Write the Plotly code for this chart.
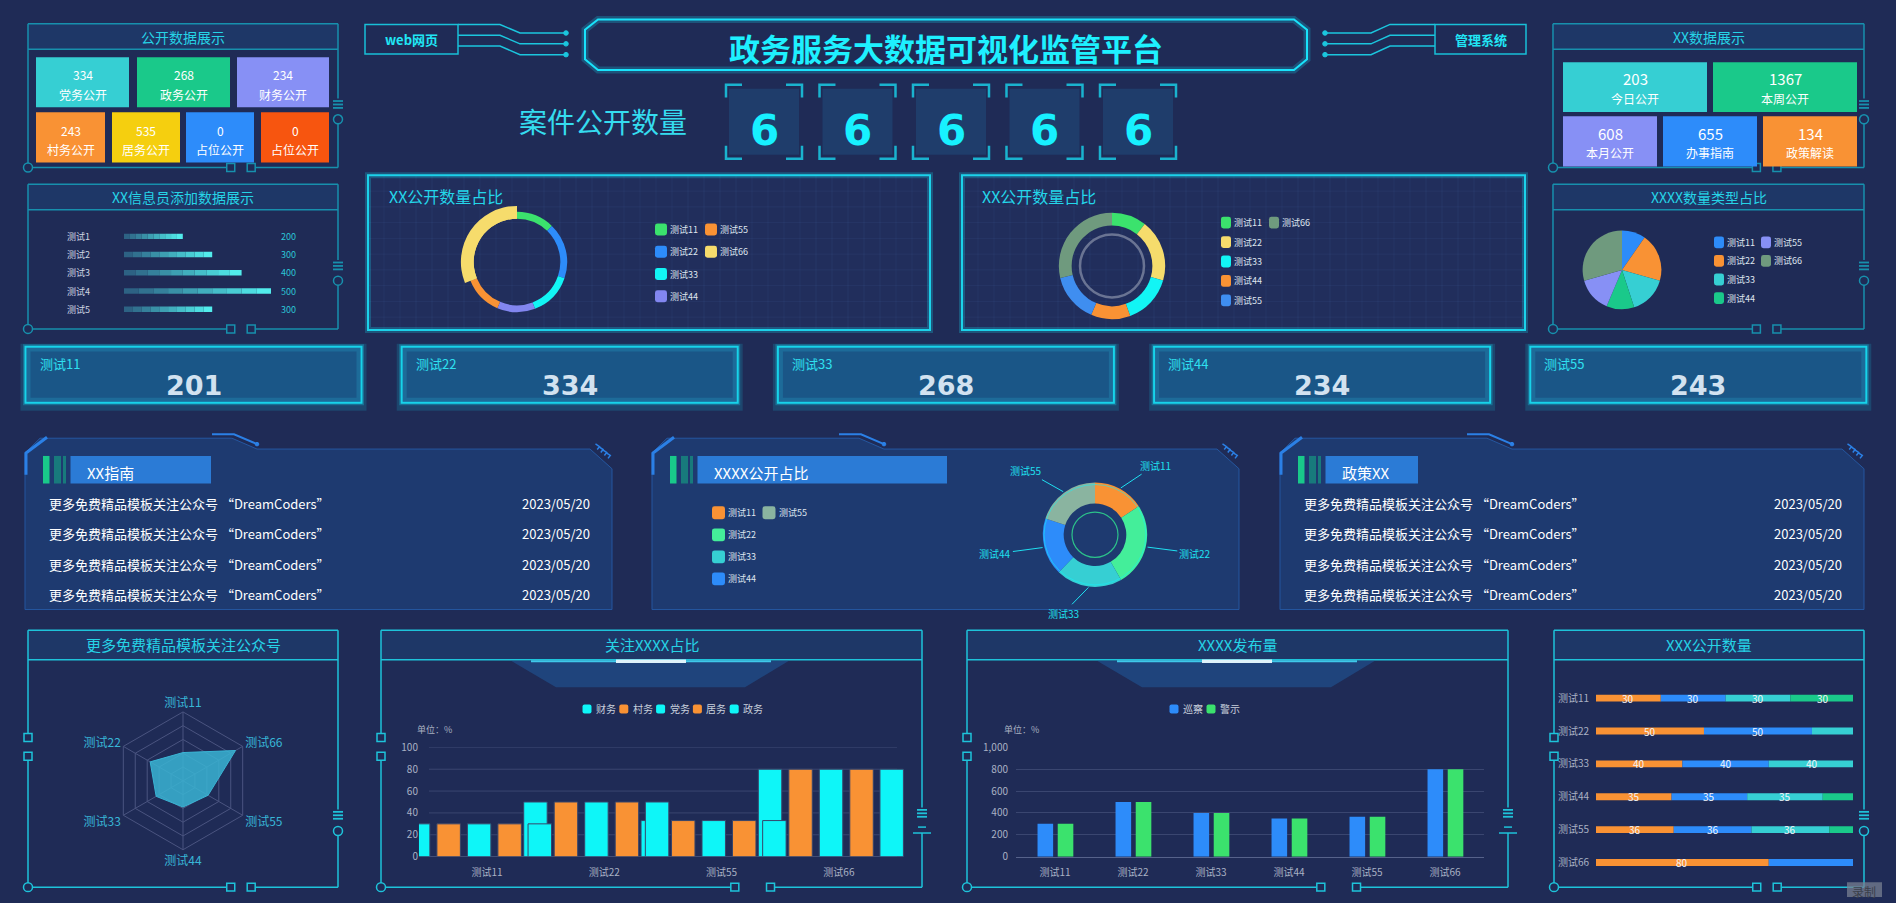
import math
import plotly.graph_objects as go

W, H = 1896, 903
BG = '#1f2b56'
FONT = 'Noto Sans CJK SC, Microsoft YaHei, sans-serif'

# ---------------- data ----------------
page_title = '政务服务大数据可视化监管平台'
left_tag, right_tag = 'web网页', '管理系统'
case_title = '案件公开数量'
case_digits = ['6', '6', '6', '6', '6']

pub_title = '公开数据展示'
pub_labels = ['党务公开', '政务公开', '财务公开', '村务公开', '居务公开', '占位公开', '占位公开']
pub_values = [334, 268, 234, 243, 535, 0, 0]

xx_title = 'XX数据展示'
xx_labels = ['今日公开', '本周公开', '本月公开', '办事指南', '政策解读']
xx_values = [203, 1367, 608, 655, 134]

info_title = 'XX信息员添加数据展示'
info_labels = ['测试1', '测试2', '测试3', '测试4', '测试5']
info_values = [200, 300, 400, 500, 300]

ring_title = 'XX公开数量占比'
ring_labels = ['测试11', '测试22', '测试33', '测试44', '测试55', '测试66']
ring1_values = [44, 65, 50, 44, 45, 112]
ring2_values = [38, 68, 54, 43, 54, 103]
type_title = 'XXXX数量类型占比'
type_values = [35, 71, 56, 41, 51, 106]

stat_labels = ['测试11', '测试22', '测试33', '测试44', '测试55']
stat_values = [201, 334, 268, 234, 243]

guide_title = 'XX指南'
policy_title = '政策XX'
news_titles = ['更多免费精品模板关注公众号 “DreamCoders”'] * 4
news_dates = ['2023/05/20'] * 4

share_title = 'XXXX公开占比'
share_labels = ['测试11', '测试22', '测试33', '测试44', '测试55']
share_values = [57, 93, 74, 64, 72]

radar_title = '更多免费精品模板关注公众号'
radar_labels = ['测试11', '测试22', '测试33', '测试44', '测试55', '测试66']
radar_values = [41, 55, 45, 38, 42, 88]

focus_title = '关注XXXX占比'
focus_categories = ['测试11', '测试22', '测试55', '测试66']
focus_series = ['财务', '村务', '党务', '居务', '政务']
focus_caiwu = [30, 50, 33, 80]
focus_cunwu = [30, 50, 33, 80]
focus_dangwu = [30, 50, 33, 80]
focus_juwu = [30, 50, 33, 80]
focus_zhengwu = [30, 50, 33, 80]
focus_ticks = [0, 20, 40, 60, 80, 100]

release_title = 'XXXX发布量'
release_categories = ['测试11', '测试22', '测试33', '测试44', '测试55', '测试66']
release_series = ['巡察', '警示']
release_patrol = [300, 500, 400, 350, 365, 800]
release_warning = [300, 500, 400, 350, 365, 800]

count_title = 'XXX公开数量'
count_categories = ['测试11', '测试22', '测试33', '测试44', '测试55', '测试66']
count_s1 = [30, 50, 40, 35, 36, 80]
count_s2 = [30, 50, 40, 35, 36, 80]
count_s3 = [30, 50, 40, 35, 36, 80]
count_s4 = [30, 50, 40, 35, 36, 80]
unit_text = '单位：%'

# ---------------- helpers ----------------
shapes, anns, traces = [], [], []


def px(x):
    return x / W


def py(y):
    return 1 - y / H


def rect(x0, y0, x1, y1, fill=None, line=None, lw=1, layer='below'):
    d = dict(type='rect', xref='paper', yref='paper', x0=px(x0), x1=px(x1), y0=py(y1), y1=py(y0),
             layer=layer, line=dict(width=lw if line else 0, color=line or 'rgba(0,0,0,0)'))
    if fill:
        d['fillcolor'] = fill
    shapes.append(d)


def poly(pts, color=None, lw=1, fill=None, close=False, layer='below'):
    p = 'M ' + ' L '.join(f'{px(x):.5f},{py(y):.5f}' for x, y in pts)
    if close:
        p += ' Z'
    d = dict(type='path', xref='paper', yref='paper', path=p, layer=layer,
             line=dict(color=color or 'rgba(0,0,0,0)', width=lw if color else 0))
    if fill:
        d['fillcolor'] = fill
    shapes.append(d)


def rrect(x0, y0, x1, y1, r, fill, layer='above'):
    def P(x, y):
        return f'{px(x):.5f},{py(y):.5f}'
    p = (f'M {P(x0 + r, y0)} L {P(x1 - r, y0)} Q {P(x1, y0)} {P(x1, y0 + r)} L {P(x1, y1 - r)} '
         f'Q {P(x1, y1)} {P(x1 - r, y1)} L {P(x0 + r, y1)} Q {P(x0, y1)} {P(x0, y1 - r)} '
         f'L {P(x0, y0 + r)} Q {P(x0, y0)} {P(x0 + r, y0)} Z')
    shapes.append(dict(type='path', xref='paper', yref='paper', path=p, layer=layer,
                       fillcolor=fill, line=dict(width=0, color='rgba(0,0,0,0)')))


def circle(cx, cy, r, color, lw=1, fill=None, layer='below'):
    d = dict(type='circle', xref='paper', yref='paper', x0=px(cx - r), x1=px(cx + r),
             y0=py(cy + r), y1=py(cy - r), layer=layer, line=dict(color=color, width=lw))
    if fill:
        d['fillcolor'] = fill
    shapes.append(d)


def text(x, y, s, size=12, color='#ffffff', xa='center', ya='middle', bold=False, family=FONT, **kw):
    anns.append(dict(xref='paper', yref='paper', x=px(x), y=py(y),
                     text=f'<b>{s}</b>' if bold else s, showarrow=False, xanchor=xa, yanchor=ya,
                     font=dict(size=size, color=color, family=family), **kw))


def header_panel(box, hb, title, tsize=14, eq_from_bottom=(64, 49), left_sq=False, wide=False,
                 border='#1790ad', tcolor='#26d3e6'):
    x0, y0, x1, y1 = box
    rect(x0, y0, x1, hb, fill='#1e3767')
    poly([(x0, y0), (x1, y0)], border, 1.5)
    poly([(x0, hb), (x1, hb)], border, 1.5)
    if left_sq:
        s1, s2 = y0 + 109, y0 + 128
        poly([(x0, y0), (x0, s1 - 4)], border, 1.5)
        poly([(x0, s2 + 4), (x0, y1)], border, 1.5)
        rect(x0 - 4, s1 - 4, x0 + 4, s1 + 4, fill=BG, line=border, lw=1.5)
        rect(x0 - 4, s2 - 4, x0 + 4, s2 + 4, fill=BG, line=border, lw=1.5)
    else:
        poly([(x0, y0), (x0, y1)], border, 1.5)
    ye, yc = y1 - eq_from_bottom[0], y1 - eq_from_bottom[1]
    poly([(x1, y0), (x1, ye - 6)], border, 1.5)
    for dy in (-3.5, 0, 3.5):
        poly([(x1 - 5, ye + dy), (x1 + 5, ye + dy)], border, 1.8)
    if wide:
        poly([(x1 - 4, yc - 3), (x1 + 4, yc - 3)], border, 1.5)
        poly([(x1 - 9, yc + 3), (x1 + 9, yc + 3)], border, 1.5)
        poly([(x1, yc + 3), (x1, y1)], border, 1.5)
    else:
        circle(x1, yc, 4.5, border, 1.5, fill=BG)
        poly([(x1, yc + 4.5), (x1, y1)], border, 1.5)
    w = x1 - x0
    q1, q2 = x0 + 0.654 * w, x0 + 0.72 * w
    poly([(x0 + 4, y1), (q1 - 4, y1)], border, 1.5)
    poly([(q2 + 4, y1), (x1, y1)], border, 1.5)
    rect(q1 - 4, y1 - 4, q1 + 4, y1 + 4, fill=BG, line=border, lw=1.5)
    rect(q2 - 4, y1 - 4, q2 + 4, y1 + 4, fill=BG, line=border, lw=1.5)
    circle(x0, y1, 4.5, border, 1.5, fill=BG)
    text((x0 + x1) / 2, (y0 + hb) / 2, title, tsize, tcolor)


def legend_grid(labels, colors, x0, y0, colgap, rowgap, rows, sq=(12, 12), tsize=9, tcolor='#dfe5ef'):
    for i, lab in enumerate(labels):
        c, r = divmod(i, rows)
        x = x0 + c * colgap
        y = y0 + r * rowgap
        rrect(x, y - sq[1] / 2, x + sq[0], y + sq[1] / 2, 2.5, colors[i])
        text(x + sq[0] + 1, y, lab, tsize, tcolor, xa='left')


def glow_frame(x0, y0, x1, y1):
    rect(x0, y0, x1, y1, fill='rgba(36,52,104,0.35)')
    for gx in range(int(x0) + 16, int(x1), 16):
        poly([(gx, y0), (gx, y1)], 'rgba(80,105,170,0.13)', 1)
    for gy in range(int(y0) + 16, int(y1), 16):
        poly([(x0, gy), (x1, gy)], 'rgba(80,105,170,0.13)', 1)
    rect(x0, y0, x1, y1, line='rgba(25,215,240,0.25)', lw=6)
    rect(x0, y0, x1, y1, line='#1cd2ea', lw=2)


# ---------------- header ----------------
CY = '#1bc6de'
for ya in (16.7, 27.7, 38.7):
    poly([(458, ya), (500, ya), (520, ya + 8.7), (566, ya + 8.7)], CY, 1.5)
    circle(566, ya + 8.7, 2.3, CY, 1, fill=CY)
    poly([(1435, ya), (1390, ya), (1371, ya + 8.7), (1325, ya + 8.7)], CY, 1.5)
    circle(1325, ya + 8.7, 2.3, CY, 1, fill=CY)
rect(365, 16.7, 458, 46.7, line='#18c0d8', lw=1.5)
text(411, 32, left_tag, 13, '#20e6f5', bold=True)
rect(1435, 16.7, 1526, 46.7, line='#18c0d8', lw=1.5)
text(1481, 32, right_tag, 13, '#20e6f5', bold=True)

frame = [(598, 11.7), (1294, 11.7), (1307, 22), (1307, 52), (1294, 63), (598, 63), (585, 52), (585, 22)]
poly(frame, 'rgba(25,230,255,0.22)', 7, close=True)
poly(frame, '#19e3fb', 2, close=True)
text(946, 40, page_title, 31, '#1ef0ff', bold=True)

text(603, 115, case_title, 28, '#35dcef')
for i, d in enumerate(case_digits):
    x0 = 726 + 93.5 * i
    x1, y0, y1 = x0 + 76, 78, 153
    rect(x0 + 3, y0 + 4, x1 - 3, y1 - 4, fill='#1f3d6b')
    bc = '#1ab3cf'
    poly([(x0, y0 + 13), (x0, y0), (x0 + 16, y0)], bc, 2.5)
    poly([(x1 - 16, y0), (x1, y0), (x1, y0 + 13)], bc, 2.5)
    poly([(x0, y1 - 13), (x0, y1), (x0 + 16, y1)], bc, 2.5)
    poly([(x1 - 16, y1), (x1, y1), (x1, y1 - 13)], bc, 2.5)
    text((x0 + x1) / 2, 124, d, 42, '#17f1ff', bold=True, family='DejaVu Sans')

# ---------------- top-left tiles ----------------
header_panel((28, 16, 338, 162), 42, pub_title)
pub_colors = ['#36cfd3', '#1ac98a', '#8790f5', '#f99234', '#f5cf0f', '#2d8cfa', '#f7550f']
pub_boxes = [(36, 50, 129, 100.7), (137, 50, 230, 100.7), (237, 50, 329, 100.7),
             (36, 106, 105, 157), (112, 106, 180, 157), (186, 106, 254, 157), (261, 106, 329, 157)]
for (x0, y0, x1, y1), lab, val, col in zip(pub_boxes, pub_labels, pub_values, pub_colors):
    rect(x0, y0, x1, y1, fill=col)
    text((x0 + x1) / 2, y0 + 18, str(val), 12, '#ffffff')
    text((x0 + x1) / 2, y0 + 38, lab, 12, '#ffffff')

# ---------------- top-right tiles ----------------
header_panel((1553, 16, 1864, 162), 42, xx_title)
xx_colors = ['#36cfd3', '#1ac98a', '#8790f5', '#2d8cfa', '#f99234']
xx_boxes = [(1563, 55, 1707, 105.7), (1713, 55, 1857, 105.7),
            (1563, 110, 1657, 161), (1663, 110, 1757, 161), (1763, 110, 1857, 161)]
for (x0, y0, x1, y1), lab, val, col in zip(xx_boxes, xx_labels, xx_values, xx_colors):
    rect(x0, y0, x1, y1, fill=col)
    text((x0 + x1) / 2, y0 + 17, str(val), 15, '#ffffff')
    text((x0 + x1) / 2, y0 + 37, lab, 12, '#ffffff')

# ---------------- info bars ----------------
header_panel((28, 179, 338, 326), 205, info_title)
NSEG = 10
c_dark, c_bright = (45, 98, 132), (82, 236, 236)
for k in range(NSEG):
    t = k / (NSEG - 1)
    col = 'rgb(%d,%d,%d)' % tuple(int(a + (b - a) * t) for a, b in zip(c_dark, c_bright))
    traces.append(go.Bar(orientation='h', y=info_labels, x=[v / NSEG for v in info_values],
                         base=[v * k / NSEG for v in info_values], width=0.3,
                         marker=dict(color=col, line=dict(width=0)), xaxis='x', yaxis='y',
                         showlegend=False, hoverinfo='skip'))
for lab, val in zip(info_labels, info_values):
    anns.append(dict(xref='paper', yref='y', x=px(65), y=lab, text=lab, showarrow=False, xanchor='left',
                     font=dict(size=9, color='#d0d6e2', family=FONT)))
    anns.append(dict(xref='paper', yref='y', x=px(279), y=lab, text=str(val), showarrow=False, xanchor='left',
                     font=dict(size=9, color='#2cc6d6', family=FONT)))

# ---------------- donut panels ----------------
glow_frame(368, 170, 930, 327)
text(387, 191, ring_title, 16, '#24d6ea', xa='left')
glow_frame(962, 170, 1525, 327)
text(980, 191, ring_title, 16, '#24d6ea', xa='left')


def pie(values, labels, colors, cx, cy, r, hole):
    traces.append(go.Pie(values=values, labels=labels, marker=dict(colors=colors, line=dict(width=0)),
                         hole=hole, sort=False, direction='clockwise', rotation=0, textinfo='none',
                         hoverinfo='skip', showlegend=False,
                         domain=dict(x=[px(cx - r), px(cx + r)], y=[py(cy + r), py(cy - r)])))


ring1_colors = ['#3be26d', '#2d8cfa', '#12f5f5', '#8286f0', '#f99234', '#f6dc6c']
pie(ring1_values, ring_labels, ring1_colors, 517, 258, 51, 44 / 51)
pie(ring1_values, ring_labels, ['rgba(0,0,0,0)'] * 5 + [ring1_colors[5]], 517, 258, 57, 44 / 57)
legend_grid(ring_labels, ring1_colors, 655, 225, 50, 22.6, 4, sq=(12, 12))

ring2_colors = ['#3be26d', '#f6dc6c', '#12f5f5', '#f99234', '#3f8ef0', '#6f9a7e']
circle(1112, 262, 32, '#6a7493', 2.5)
pie(ring2_values, ring_labels, ring2_colors, 1112, 262, 54, 41 / 54)
legend_grid(ring_labels, ring2_colors, 1221, 218, 48, 19.75, 5, sq=(10, 12))

header_panel((1553, 179, 1864, 326), 205, type_title)
type_colors = ['#2d8cfa', '#f99234', '#36cfd3', '#1ac98a', '#8790f5', '#6f9a7e']
pie(type_values, ring_labels, type_colors, 1622, 266, 40, 0)
legend_grid(ring_labels, type_colors, 1714, 238, 47, 18.9, 4, sq=(10, 12))

# ---------------- stat boxes ----------------
for i, (lab, val) in enumerate(zip(stat_labels, stat_values)):
    x0 = 25.5 + 376.2 * i
    x1, y0, y1 = x0 + 336, 344, 401
    rect(x0, y0 + 2, x1, y1 + 3, line='rgba(20,210,235,0.16)', lw=10)
    rect(x0, y0, x1, y1, line='rgba(20,210,235,0.3)', lw=5)
    rect(x0, y0, x1, y1, fill='#1a5687', line='#17d3ea', lw=2)
    rect(x0 + 3, y0 + 3, x1 - 3, y1 - 3, line='rgba(40,180,220,0.22)', lw=4)
    text(x0 + 12, 361, lab, 13, '#2fe0f0', xa='left')
    text((x0 + x1) / 2, 383, str(val), 27, '#d2e2f0', bold=True, family='DejaVu Sans')


# ---------------- news panels ----------------
def news_panel(x0, x1, title, bar_end):
    yt, yb, ye = 437, 448, 611
    pts = [(x0, 452), (x0 + 15, yt), (x0 + 207, yt), (x0 + 232, yb), (x1 - 22, yb), (x1, yb + 20),
           (x1, ye), (x0, ye)]
    poly(pts, '#2557a0', 1, fill='#1e3a70', close=True)
    poly([(x0 + 1, 474), (x0 + 1, 452), (x0 + 22, 436)], '#2b80e6', 3)
    poly([(x0 + 187, 433), (x0 + 209, 433), (x0 + 232, 443)], '#2b80e6', 2)
    circle(x0 + 232, 443, 1.8, '#2b80e6', 1, fill='#2b80e6')
    for k in range(4):
        cx, cy = x1 - 14 + 3.6 * k, 445 + 3.0 * k
        poly([(cx - 2.5, cy - 2.2), (cx + 1.5, cy + 0.5), (cx - 0.8, cy + 3.5)], '#2b80e6', 1.5)
    rect(x0 + 18, 455, x0 + 24.5, 483, fill='#19c98a')
    rect(x0 + 29, 455, x0 + 36, 483, fill='#187a7c')
    rect(x0 + 38, 455, x0 + 41, 483, fill='#187a7c')
    rect(x0 + 45.5, 455, bar_end, 483, fill='#2b7bd6')
    text(x0 + 60, 472, title, 15, '#ffffff', xa='left')


news_panel(25, 612, guide_title, 211)
news_panel(652, 1239, share_title, 947)
news_panel(1280, 1864, policy_title, 1418)
for (x0, x1) in ((25, 612), (1280, 1864)):
    for j, (t, d) in enumerate(zip(news_titles, news_dates)):
        yy = 503 + 31 * j
        text(x0 + 22, yy, t, 13, '#ffffff', xa='left')
        text(x1 - 20, yy, d, 13, '#ffffff', xa='right')

share_colors = ['#f99234', '#44ee9a', '#36cfd3', '#2d8cfa', '#8ab4a0']
legend_grid(share_labels, share_colors, 712, 512.7, 50.5, 22.4, 4, sq=(13, 13))
scx, scy, sR = 1095, 535, 53
pie(share_values, share_labels, share_colors, scx, scy, sR, 0.6)
circle(scx, scy, 23, '#2cc28a', 1.2, layer='above')
circle(scx, scy, 51, 'rgba(18,240,250,0.55)', 1, layer='above')
tot = sum(share_values)
cum = 0
for lab, v in zip(share_labels, share_values):
    a = math.radians((cum + v / 2) / tot * 360)
    cum += v
    s, c = math.sin(a), math.cos(a)
    xp, yp = scx + (sR + 1) * s, scy - (sR + 1) * c
    anns.append(dict(xref='paper', yref='paper', x=px(xp), y=py(yp), text=lab, showarrow=True,
                     arrowhead=0, arrowwidth=1, arrowcolor='#1ee0f0', standoff=0,
                     ax=s * 26 + (22 if s >= 0 else -22), ay=-c * 26,
                     font=dict(size=10, color='#1ee0f0', family=FONT)))

# ---------------- bottom panels ----------------
BB = '#1ec3da'
header_panel((28, 632, 338, 893), 662, radar_title, 15, (73, 57), left_sq=True, border=BB)
header_panel((381, 632, 922, 893), 662, focus_title, 15, (75, 58), left_sq=True, wide=True, border=BB)
header_panel((967, 632, 1508, 893), 662, release_title, 15, (75, 58), left_sq=True, wide=True, border=BB)
header_panel((1554, 632, 1864, 893), 662, count_title, 15, (73, 57), left_sq=True, border=BB)

for x0 in (381, 967):
    poly([(x0 + 130, 663), (x0 + 408, 663), (x0 + 364, 690), (x0 + 175, 690)], None, 0,
         fill='rgba(30,100,170,0.45)', close=True)
    poly([(x0 + 150, 663.5), (x0 + 390, 663.5)], '#3fc8ea', 2)
    poly([(x0 + 235, 663.5), (x0 + 305, 663.5)], '#dff3fb', 3.5)

# radar
traces.append(go.Scatterpolar(r=radar_values + radar_values[:1], theta=radar_labels + radar_labels[:1],
                              fill='toself', fillcolor='rgba(58,180,212,0.85)', mode='lines',
                              line=dict(color='#3ab4d4', width=1), showlegend=False, hoverinfo='skip',
                              subplot='polar'))

# focus bars
CYAN, ORANGE = '#0ef6f8', '#f99234'
focus_vals = [focus_caiwu, focus_cunwu, focus_dangwu, focus_juwu, focus_zhengwu]
focus_colors = [CYAN, ORANGE, CYAN, ORANGE, CYAN]
focus_offsets = [-0.587, -0.327, -0.067, 0.193, 0.45]
for name, vals, col, off in zip(focus_series, focus_vals, focus_colors, focus_offsets):
    traces.append(go.Bar(x=[i + off for i in range(len(focus_categories))], y=vals, width=0.2, name=name,
                         marker=dict(color=col, line=dict(color='#37456b', width=1)),
                         xaxis='x2', yaxis='y2', showlegend=False, hoverinfo='skip'))
for v in focus_ticks:
    shapes.append(dict(type='line', xref='paper', yref='y2', x0=px(429), x1=px(897), y0=v, y1=v,
                       layer='below', line=dict(color='#56628a' if v == 0 else '#3a4670', width=1)))
for i, (name, col) in enumerate(zip(focus_series, focus_colors)):
    xc = 587 + 36.8 * i
    rrect(xc - 4.5, 707.5, xc + 4.5, 716.5, 2, col)
    text(xc + 7, 712, name, 10, '#c8d0dc', xa='left')
text(415, 733, unit_text, 9, '#a8b0c0', xa='left')

# release bars
traces.append(go.Bar(x=release_categories, y=release_patrol, width=0.2, offset=-0.224, name=release_series[0],
                     marker=dict(color='#2d8cfa', line=dict(width=0)), xaxis='x3', yaxis='y3',
                     showlegend=False, hoverinfo='skip'))
traces.append(go.Bar(x=release_categories, y=release_warning, width=0.2, offset=0.035, name=release_series[1],
                     marker=dict(color='#3be26d', line=dict(width=0)), xaxis='x3', yaxis='y3',
                     showlegend=False, hoverinfo='skip'))
for i, (name, col) in enumerate(zip(release_series, ['#2d8cfa', '#3be26d'])):
    xc = 1174 + 37 * i
    rrect(xc - 4.5, 707.5, xc + 4.5, 716.5, 2, col)
    text(xc + 7, 712, name, 10, '#c8d0dc', xa='left')
text(1002, 733, unit_text, 9, '#a8b0c0', xa='left')

# count stacked bars
count_vals = [count_s1, count_s2, count_s3, count_s4]
count_colors = ['#f99234', '#2d8cfa', '#36cfd3', '#1ac98a']
XMAX = 119
base = [0] * len(count_categories)
for vals, col in zip(count_vals, count_colors):
    traces.append(go.Bar(orientation='h', y=count_categories, x=vals, base=list(base), width=0.21,
                         marker=dict(color=col, line=dict(width=0)), xaxis='x4', yaxis='y4',
                         showlegend=False, hoverinfo='skip'))
    for cat, v, b in zip(count_categories, vals, base):
        if b + v / 2 < XMAX:
            anns.append(dict(xref='x4', yref='y4', x=b + v / 2, y=cat, text=str(v), showarrow=False,
                             font=dict(size=10, color='#f2f4f8', family=FONT)))
    base = [b + v for b, v in zip(base, vals)]

# record button overlay
rect(1847, 888, 1882, 903, fill='rgba(120,128,145,0.75)', layer='above')
text(1864, 897, '录制', 12, '#3a3f4a')

fig = go.Figure(traces)
axis_off = dict(visible=False, fixedrange=True)
TICKC = '#a9b1c4'
NOTICK = dict(ticks='outside', ticklen=6, tickcolor='rgba(0,0,0,0)')
fig.update_layout(
    width=W, height=H, margin=dict(l=0, r=0, t=0, b=0), paper_bgcolor=BG, plot_bgcolor='rgba(0,0,0,0)',
    barmode='overlay', showlegend=False, font=dict(family=FONT, color='#c8d0dc'),
    shapes=shapes, annotations=anns,
    xaxis=dict(domain=[px(124), px(271)], range=[0, 500], anchor='y', **axis_off),
    yaxis=dict(domain=[py(315.3), py(222.7)], autorange='reversed', categoryorder='array',
               categoryarray=info_labels, anchor='x', **axis_off),
    xaxis2=dict(domain=[px(487 - 0.58 * 117.3), px(487 + 3.56 * 117.3)], range=[-0.58, 3.56], anchor='y2',
                tickvals=list(range(len(focus_categories))), ticktext=focus_categories,
                tickfont=dict(size=10, color=TICKC), showgrid=False, zeroline=False, showline=False,
                **NOTICK),
    yaxis2=dict(domain=[py(862), py(751)], range=[0, 100], tickvals=focus_ticks, anchor='x2',
                tickfont=dict(size=10, color=TICKC), showgrid=False, zeroline=False, ticks=''),
    xaxis3=dict(domain=[px(1016), px(1484)], type='category', tickfont=dict(size=10, color=TICKC),
                anchor='y3', showgrid=False, zeroline=False, showline=True, linecolor='#56628a', **NOTICK),
    yaxis3=dict(domain=[py(862), py(751)], range=[0, 1000], dtick=200, tickformat=',d', anchor='x3',
                tickfont=dict(size=10, color=TICKC), showgrid=True, gridcolor='#3a4670',
                zeroline=False, ticks='outside', ticklen=5, tickcolor='rgba(0,0,0,0)'),
    xaxis4=dict(domain=[px(1596), px(1853)], range=[0, XMAX], anchor='y4', **axis_off),
    yaxis4=dict(domain=[py(884.7), py(684.3)], autorange='reversed', categoryorder='array', anchor='x4',
                categoryarray=count_categories, tickfont=dict(size=10, color='#aab2c4'),
                showgrid=False, zeroline=False, showline=False, ticks='outside', ticklen=4,
                tickcolor='rgba(0,0,0,0)'),
    polar=dict(domain=dict(x=[px(113), px(253)], y=[py(855), py(715)]), bgcolor='rgba(0,0,0,0)',
               gridshape='linear',
               radialaxis=dict(range=[0, 100], dtick=20, showticklabels=False, ticks='', showline=False,
                               gridcolor='#4a5480'),
               angularaxis=dict(direction='counterclockwise', rotation=90, gridcolor='#4a5480',
                                linecolor='#4a5480', ticks='', tickfont=dict(size=12, color='#38b6d6'))),
)

fig.write_html('out.html', config={'displayModeBar': False},
               post_script="document.body.style.margin='0';document.body.style.overflow='hidden';")
